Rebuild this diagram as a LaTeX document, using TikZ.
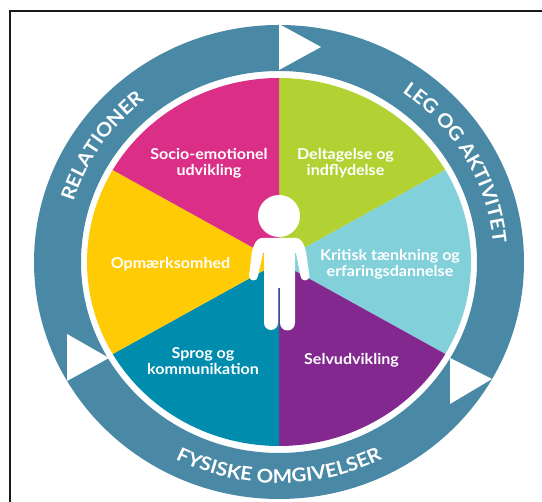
\documentclass[tikz,border=0pt]{standalone}
\usepackage{fontspec}
\setmainfont{Lato}
\newfontface\lblfont{Lato Bold}[FakeStretch=1.07]
\newfontface\ringfont{Lato Bold}[FakeStretch=1.08]
\usetikzlibrary{decorations.text}
\definecolor{ringc}{HTML}{4A89A6}
\definecolor{magc}{HTML}{DB2F87}
\definecolor{grnc}{HTML}{B2D234}
\definecolor{ltbc}{HTML}{82D0DA}
\definecolor{purc}{HTML}{82288F}
\definecolor{teac}{HTML}{008CAD}
\definecolor{yelc}{HTML}{FFCB05}
\tikzset{
  lbl/.style={text=white,font=\lblfont\fontsize{15}{16}\selectfont,align=center,inner sep=0pt},
  ringtext/.style={decorate,decoration={text along path,text align=center,text color=white,
     text={|\ringfont\fontsize{19}{19}\selectfont|#1}}},
  tri/.style={fill=white,draw=none}
}
\begin{document}
\begin{tikzpicture}[x=1pt,y=1pt]
\useasboundingbox (0,0) rectangle (542,502);
\fill[white] (0,0) rectangle (542,502);
\draw[line width=2pt,black!90] (10,0) -- (10,491) -- (542,491);
\begin{scope}[shift={(279,240)}]
  \fill[ringc,even odd rule] (0,0) ellipse[x radius=245,y radius=237] (0,0) ellipse[x radius=198,y radius=191];
  \fill[grnc] (0,0) -- (90:192 and 184) arc[start angle=90,end angle=30,x radius=192,y radius=184] -- cycle;
  \fill[ltbc] (0,0) -- (30:192 and 184) arc[start angle=30,end angle=-30,x radius=192,y radius=184] -- cycle;
  \fill[purc] (0,0) -- (-30:192 and 184) arc[start angle=-30,end angle=-90,x radius=192,y radius=184] -- cycle;
  \fill[teac] (0,0) -- (-90:192 and 184) arc[start angle=-90,end angle=-150,x radius=192,y radius=184] -- cycle;
  \fill[yelc] (0,0) -- (-150:192 and 184) arc[start angle=-150,end angle=-210,x radius=192,y radius=184] -- cycle;
  \fill[magc] (0,0) -- (150:192 and 184) arc[start angle=150,end angle=90,x radius=192,y radius=184] -- cycle;
  \path[ringtext={RELATIONER}] (176:215 and 207) arc[start angle=176,end angle=116,x radius=215,y radius=207];
  \path[ringtext={LEG OG AKTIVITET}] (65:215 and 207) arc[start angle=65,end angle=-5,x radius=215,y radius=207];
  \path[ringtext={FYSISKE OMGIVELSER}] (235:229 and 221) arc[start angle=235,end angle=305,x radius=229,y radius=221];
\end{scope}
\fill[tri] (279,478) -- (321,455) -- (279,432) -- cycle;
\fill[tri] (67,168) -- (109,144) -- (67,121) -- cycle;
\fill[tri] (450,144) -- (492,123) -- (450,98) -- cycle;
% figure
\fill[white] (279,286) circle[radius=21];
\fill[white] (263,264) -- (295,264) .. controls (302,264) and (304,258) .. (306,250)
  -- (309.5,226) arc[start angle=0,end angle=-180,radius=4.5] -- (296,249) -- (295,249)
  -- (295,179) arc[start angle=0,end angle=-180,radius=7.5] -- (280,214) -- (278,214)
  -- (278,179) arc[start angle=0,end angle=-180,radius=7] -- (264,249) -- (263,249)
  -- (258,226) arc[start angle=0,end angle=-180,radius=4.5] -- (252,250)
  .. controls (254,258) and (256,264) .. (263,264) -- cycle;
\node[lbl] (socio) at (209,338.5) {Socio-emotionel\\udvikling};
\node[lbl] (delt) at (345.5,338.5) {Deltagelse og\\indflydelse};
\node[lbl] (krit) at (390,238) {Kritisk tænkning og\\erfaringsdannelse};
\node[lbl] (opm) at (170.5,238) {Opmærksomhed};
\node[lbl] (sprog) at (203,141) {Sprog og\\kommunikation};
\node[lbl] (selv) at (351.5,142) {Selvudvikling};
\end{tikzpicture}
\end{document}
